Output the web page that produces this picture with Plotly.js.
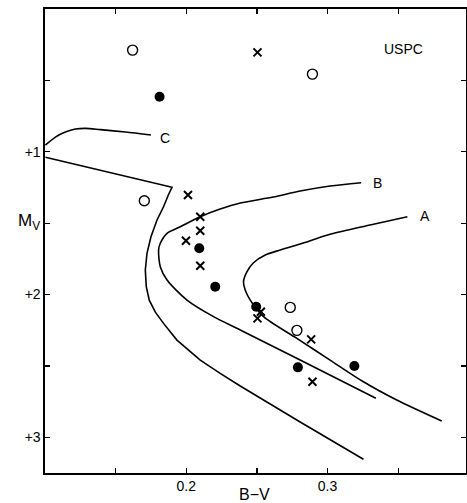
<!DOCTYPE html>
<html>
<head>
<meta charset="utf-8">
<script src="https://cdn.plot.ly/plotly-3.0.1.min.js"></script>
<style>html,body{margin:0;padding:0;background:#fff;}#chart{width:467px;height:503px;}</style>
</head>
<body>
<div id="chart"></div>
<script>
// Curve A (isochrone)
const curveA_bv = [0.3565,0.3301,0.3018,0.2806,0.2665,0.2559,0.2474,0.2429,0.2405,0.2417,0.2453,0.2547,0.2783,0.3018,0.3254,0.3490,0.3808];
const curveA_mv = [1.455,1.513,1.578,1.646,1.688,1.723,1.779,1.842,1.912,1.968,2.039,2.155,2.307,2.459,2.611,2.739,2.886];
// Curve B
const curveB_bv = [0.3238,0.3018,0.2806,0.2615,0.2382,0.2240,0.2099,0.1958,0.1864,0.1816,0.1804,0.1816,0.1864,0.2005,0.2193,0.2382,0.2806,0.3342];
const curveB_mv = [1.217,1.240,1.275,1.317,1.359,1.401,1.455,1.525,1.571,1.641,1.688,1.805,1.898,2.039,2.155,2.248,2.459,2.727];
// Curve C
const curveC_bv = [0.1003,0.1074,0.1144,0.1215,0.1286,0.1392,0.1569,0.1750];
const curveC_mv = [0.953,0.897,0.862,0.841,0.836,0.845,0.862,0.883];
// Unlabelled curve
const curveD_bv = [0.1003,0.1899,0.1873,0.1839,0.1793,0.1750,0.1722,0.1710,0.1717,0.1738,0.1781,0.1839,0.1934,0.2099,0.2240,0.2382,0.2806,0.3254];
const curveD_mv = [1.039,1.249,1.303,1.385,1.478,1.595,1.711,1.828,1.945,2.039,2.123,2.202,2.319,2.459,2.552,2.641,2.893,3.154];
// Stars: open circles
const open_bv = [0.1620,0.2893,0.1703,0.2736,0.2783];
const open_mv = [0.288,0.456,1.343,2.090,2.251];
// Stars: filled circles
const filled_bv = [0.1811,0.2092,0.2205,0.2495,0.2790,0.3190];
const filled_mv = [0.615,1.676,1.945,2.085,2.510,2.501];
// Stars: crosses
const cross_bv = [0.2504,0.2012,0.2099,0.2099,0.1998,0.2099,0.2528,0.2504,0.2884,0.2893];
const cross_mv = [0.304,1.303,1.455,1.553,1.623,1.798,2.120,2.167,2.314,2.611];
// Ticks
const xTickVals = [0.15,0.2,0.25,0.3,0.35];
const xTickText = ["","0.2","","0.3",""];
const yTickVals = [0.5,1,1.5,2,2.5,3];
const yTickText = ["","+1","","+2","","+3"];

const lineStyle = {color:'#000', width:1.6};
const traces = [
  {x:curveA_bv, y:curveA_mv, mode:'lines', line:Object.assign({shape:'spline', smoothing:0.8}, lineStyle)},
  {x:curveB_bv, y:curveB_mv, mode:'lines', line:Object.assign({shape:'spline', smoothing:0.8}, lineStyle)},
  {x:curveC_bv, y:curveC_mv, mode:'lines', line:Object.assign({shape:'spline', smoothing:0.8}, lineStyle)},
  {x:curveD_bv, y:curveD_mv, mode:'lines', line:Object.assign({shape:'linear'}, lineStyle)},
  {x:open_bv, y:open_mv, mode:'markers', marker:{symbol:'circle-open', size:10, color:'#000', line:{width:1.4, color:'#000'}}},
  {x:filled_bv, y:filled_mv, mode:'markers', marker:{symbol:'circle', size:10, color:'#000'}},
  {x:cross_bv, y:cross_mv, mode:'markers', marker:{symbol:'x-thin', size:8, color:'#000', line:{width:2, color:'#000'}}}
];

const fontFam = 'Liberation Sans, Arial, sans-serif';
const layout = {
  width:467, height:503,
  margin:{l:45, r:1, t:9, b:30},
  paper_bgcolor:'#fff', plot_bgcolor:'#fff',
  showlegend:false,
  font:{family:fontFam, color:'#000', size:14},
  xaxis:{range:[0.1, 0.398], tickvals:xTickVals, ticktext:xTickText, ticks:'inside', ticklen:5, tickwidth:1.2, tickcolor:'#000',
         showline:true, linecolor:'#000', linewidth:1.6, mirror:'ticks', showgrid:false, zeroline:false,
         tickfont:{family:fontFam, size:14, color:'#000'}},
  yaxis:{range:[3.25, 0.0], tickvals:yTickVals, ticktext:yTickText, ticks:'inside', ticklen:5, tickwidth:1.2, tickcolor:'#000',
         showline:true, linecolor:'#000', linewidth:1.6, mirror:'ticks', showgrid:false, zeroline:false,
         tickfont:{family:fontFam, size:14, color:'#000'}},
  annotations:[
    {x:0.1851, y:0.904, xref:'x', yref:'y', text:'C', showarrow:false, font:{size:14}},
    {x:0.3355, y:1.219, xref:'x', yref:'y', text:'B', showarrow:false, font:{size:14}},
    {x:0.369, y:1.452, xref:'x', yref:'y', text:'A', showarrow:false, font:{size:14}},
    {x:0.3535, y:0.281, xref:'x', yref:'y', text:'USPC', showarrow:false, font:{size:14}},
    {x:-0.068, y:1.0 - (222-9)/464, xref:'paper', yref:'paper', text:'M<sub>V</sub>', showarrow:false, font:{size:17}},
    {x:0.5, y:-21/464, xref:'paper', yref:'paper', yanchor:'middle', text:'B\u2212V', showarrow:false, font:{size:16}, xshift:-1}
  ]
};
Plotly.newPlot('chart', traces, layout, {displayModeBar:false, staticPlot:true});
</script>
</body>
</html>
